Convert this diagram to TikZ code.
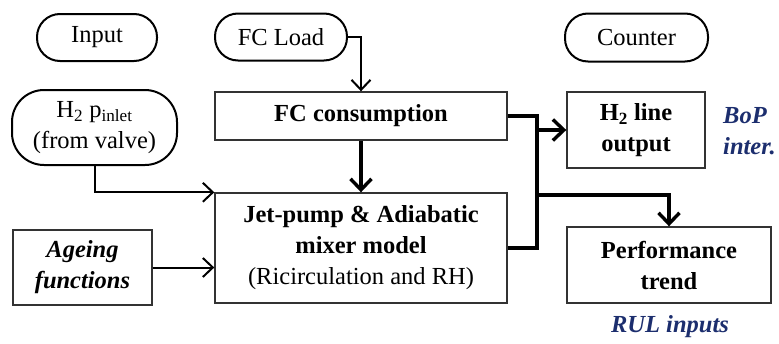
\documentclass[tikz,border=0pt]{standalone}
\usepackage{fontspec}
\setmainfont{Liberation Serif}
\usetikzlibrary{arrows.meta}
\definecolor{navy}{RGB}{28,46,110}
\begin{document}
\begin{tikzpicture}[x=1pt,y=-1pt,
  font=\fontsize{24.5}{31}\selectfont,
  pill/.style={draw=black,line width=2pt,rounded corners=#1,inner sep=0pt,align=center},
  pill/.default=23pt,
  box/.style={draw=black!80,line width=1.4pt,inner sep=0pt,align=center},
  thinarr/.style={line width=2pt,-{Straight Barb[length=10pt,width=19pt,line width=2pt]}},
  thickline/.style={line width=3.8pt,line join=miter},
  thickarr/.style={thickline,-{Straight Barb[length=11pt,width=21pt,line width=3.4pt]}},
  note/.style={text=navy,font=\fontsize{24.5}{31}\selectfont\bfseries\itshape,align=left,inner sep=0pt}
]
\useasboundingbox (0,0) rectangle (779,343);

\node[pill,minimum width=120pt,minimum height=47pt] (input) at (97,37.5) {Input};
\node[pill,minimum width=132pt,minimum height=47pt] (fcload) at (281,37) {FC Load};
\node[pill,minimum width=143pt,minimum height=48pt] (counter) at (636.5,37.5) {Counter};
\node[pill=32pt,minimum width=165pt,minimum height=75pt] (h2in) at (94.5,127.5) {H\textsubscript{2} p\textsubscript{inlet}\\(from valve)};

\node[box,minimum width=292pt,minimum height=48pt,font=\fontsize{24.5}{31}\selectfont\bfseries] (fccons) at (361,116) {FC consumption};
\node[box,minimum width=138pt,minimum height=76pt,font=\fontsize{24.5}{31}\selectfont\bfseries] (h2out) at (636,130) {H\textsubscript{2} line\\output};
\node[box,minimum width=292pt,minimum height=110pt] (jet) at (361,248) {\textbf{Jet-pump \& Adiabatic}\\\textbf{mixer model}\\(Ricirculation and RH)};
\node[box,minimum width=139pt,minimum height=75pt,font=\fontsize{24.5}{31}\selectfont\bfseries\itshape] (ageing) at (82.5,267.5) {Ageing\\functions};
\node[box,minimum width=204pt,minimum height=76pt,font=\fontsize{24.5}{31}\selectfont\bfseries] (perf) at (669,265) {Performance\\trend};

\node[note,anchor=west] (bop) at (723,131) {BoP\\inter.};
\node[note] (rul) at (670,327) {RUL inputs};

\draw[thinarr] (fcload.east) -| (fccons.north);
\draw[thinarr] (h2in.south) |- (jet.north west);
\draw[thinarr] (ageing.east) -- (ageing.east -| jet.west);
\draw[thickarr] (fccons.south) -- (jet.north);

\coordinate (bx) at (537,0);
\coordinate (bt) at (bx |- 0,195);
\draw[thickline] (fccons.east) -| (bx |- jet.east) -- (jet.east);
\draw[thickarr] (bx |- h2out.west) -- (h2out.west);
\draw[thickarr] (bt) -| (perf.north);
\end{tikzpicture}
\end{document}
